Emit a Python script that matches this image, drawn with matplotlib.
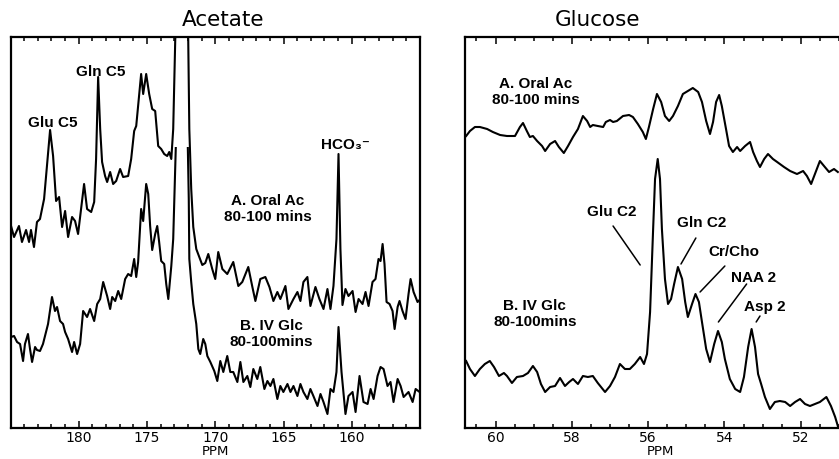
import matplotlib
matplotlib.use("Agg")
import matplotlib.pyplot as plt
from matplotlib.ticker import MultipleLocator, FixedLocator
from matplotlib.patches import Rectangle

# ---------------- data ----------------
# Acetate panel, trace A (Oral Ac, 80-100 mins)
acet_ppm_A = [184.96, 184.74, 184.38, 184.16, 183.86, 183.64, 183.50, 183.28, 183.06, 182.84,
              182.54, 182.32, 182.10, 181.88, 181.66, 181.44, 181.22, 181.00, 180.78, 180.49,
              180.27, 180.05, 179.83, 179.61, 179.39, 179.09, 178.87, 178.73, 178.58, 178.43,
              178.29, 178.07, 177.92, 177.70, 177.48, 177.26, 176.97, 176.75, 176.38, 176.16,
              175.94, 175.79, 175.57, 175.43, 175.28, 175.06, 174.84, 174.62, 174.40, 174.18,
              173.96, 173.74, 173.52, 173.37, 173.22, 173.08, 172.93, 172.49, 171.98, 171.90,
              171.76, 171.61, 171.39, 171.17, 170.95, 170.73, 170.51, 170.22, 170.00, 169.78,
              169.48, 169.12, 168.68, 168.31, 168.02, 167.58, 167.28, 167.06, 166.70, 166.33,
              166.03, 165.74, 165.45, 165.23, 164.86, 164.64, 164.27, 163.98, 163.76, 163.54,
              163.25, 163.03, 162.66, 162.37, 162.07, 161.78, 161.56, 161.34, 161.12, 160.97,
              160.83, 160.68, 160.46, 160.24, 159.94, 159.72, 159.50, 159.21, 158.99, 158.77,
              158.48, 158.26, 158.04, 157.89, 157.74, 157.60, 157.45, 157.23, 157.01, 156.86,
              156.64, 156.50, 156.28, 156.06, 155.84, 155.69, 155.47, 155.18, 154.96]
acet_int_A = [202, 191, 202, 186, 198, 186, 198, 181, 206, 209,
              229, 264, 298, 272, 227, 231, 201, 217, 191, 211,
              207, 194, 219, 244, 219, 216, 226, 269, 351, 299,
              266, 252, 246, 256, 244, 247, 259, 251, 252, 269,
              297, 302, 334, 354, 334, 354, 334, 319, 317, 282,
              279, 274, 272, 276, 269, 299, 389, 470, 389, 299,
              239, 201, 179, 171, 163, 165, 174, 159, 149, 176,
              159, 154, 166, 142, 146, 161, 141, 127, 149, 151,
              141, 127, 136, 129, 142, 119, 129, 136, 127, 146,
              151, 122, 141, 129, 119, 139, 119, 142, 189, 274,
              179, 123, 139, 132, 137, 116, 129, 124, 136, 122,
              146, 149, 169, 167, 184, 164, 126, 124, 117, 99,
              121, 127, 117, 109, 134, 149, 136, 126, 129]

# Acetate panel, trace B (IV Glc, 80-100 mins)
acet_ppm_B = [184.96, 184.74, 184.52, 184.30, 184.08, 183.94, 183.72, 183.57, 183.42, 183.20,
              183.06, 182.84, 182.62, 182.47, 182.25, 181.96, 181.74, 181.59, 181.37, 181.15,
              181.00, 180.78, 180.49, 180.34, 180.12, 179.90, 179.68, 179.39, 179.17, 178.87,
              178.65, 178.43, 178.21, 177.92, 177.70, 177.55, 177.33, 177.11, 176.89, 176.60,
              176.38, 176.16, 175.94, 175.79, 175.65, 175.43, 175.28, 175.06, 174.91, 174.77,
              174.62, 174.40, 174.25, 174.11, 173.96, 173.74, 173.59, 173.44, 173.22, 173.08,
              173.00, 172.89, 172.49, 172.01, 171.94, 171.90, 171.76, 171.61, 171.39, 171.24,
              171.10, 170.88, 170.73, 170.58, 170.36, 170.07, 169.85, 169.63, 169.41, 169.12,
              168.90, 168.68, 168.38, 168.16, 167.94, 167.65, 167.43, 167.21, 166.92, 166.70,
              166.40, 166.18, 165.96, 165.74, 165.45, 165.23, 165.01, 164.71, 164.49, 164.27,
              163.98, 163.76, 163.54, 163.25, 163.03, 162.81, 162.51, 162.29, 162.07, 161.78,
              161.56, 161.34, 161.12, 160.97, 160.75, 160.46, 160.24, 159.94, 159.72, 159.43,
              159.14, 158.84, 158.62, 158.40, 158.11, 157.89, 157.67, 157.38, 157.16, 156.94,
              156.64, 156.42, 156.20, 155.84, 155.54, 155.32, 155.03]
acet_int_B = [91, 92, 86, 84, 67, 84, 94, 79, 66, 81,
              78, 77, 84, 92, 104, 131, 117, 121, 107, 104,
              96, 89, 76, 86, 74, 84, 117, 111, 119, 107,
              124, 129, 146, 132, 119, 131, 127, 137, 129, 149,
              154, 152, 169, 151, 166, 219, 207, 244, 234, 202,
              178, 194, 202, 186, 167, 164, 144, 129, 162, 189,
              229, 281, 470, 281, 229, 169, 146, 124, 104, 79,
              74, 89, 84, 72, 66, 57, 47, 67, 56, 72,
              56, 56, 46, 66, 46, 52, 41, 59, 49, 61,
              39, 47, 42, 49, 29, 42, 36, 44, 36, 42,
              32, 44, 36, 29, 39, 32, 22, 34, 26, 14,
              39, 36, 56, 101, 56, 14, 32, 36, 16, 52,
              26, 24, 39, 29, 52, 61, 59, 42, 46, 26,
              49, 42, 31, 36, 26, 39, 36]
acet_B_cutoff = 281   # the B trace's large peak is cut off at this level

# Glucose panel, trace A (Oral Ac, 80-100 mins)
gluc_ppm_A = [60.77, 60.67, 60.54, 60.41, 60.22, 60.07, 59.88, 59.70, 59.49, 59.36,
              59.28, 59.18, 59.10, 59.02, 58.91, 58.78, 58.70, 58.57, 58.44, 58.34,
              58.21, 58.10, 57.97, 57.84, 57.71, 57.60, 57.52, 57.45, 57.32, 57.18,
              57.11, 57.00, 56.92, 56.82, 56.66, 56.50, 56.40, 56.27, 56.14, 56.06,
              55.98, 55.87, 55.77, 55.66, 55.56, 55.45, 55.35, 55.22, 55.09, 54.96,
              54.83, 54.69, 54.59, 54.48, 54.38, 54.30, 54.22, 54.14, 54.07, 53.96,
              53.88, 53.78, 53.67, 53.59, 53.46, 53.33, 53.25, 53.15, 53.07, 52.96,
              52.86, 52.73, 52.62, 52.44, 52.28, 52.10, 51.94, 51.84, 51.73, 51.63,
              51.50, 51.37, 51.26, 51.13, 51.03]
gluc_int_A = [292, 297, 301, 301, 299, 296, 293, 292, 292, 301,
              305, 297, 291, 292, 287, 282, 277, 284, 287, 281,
              275, 282, 291, 299, 312, 307, 301, 303, 302, 301,
              306, 308, 306, 307, 312, 313, 311, 304, 296, 289,
              301, 319, 334, 326, 312, 307, 312, 322, 334, 337,
              340, 336, 326, 307, 294, 306, 326, 333, 322, 299,
              282, 276, 281, 277, 282, 286, 276, 267, 261, 269,
              274, 269, 266, 261, 257, 254, 257, 252, 244, 254,
              267, 261, 256, 259, 256]

# Glucose panel, trace B (IV Glc, 80-100 mins)
gluc_ppm_B = [60.77, 60.67, 60.54, 60.41, 60.28, 60.15, 60.04, 59.91, 59.78, 59.70,
              59.57, 59.44, 59.28, 59.15, 59.02, 58.91, 58.81, 58.70, 58.57, 58.44,
              58.31, 58.18, 58.07, 57.97, 57.84, 57.71, 57.58, 57.45, 57.32, 57.13,
              57.00, 56.87, 56.74, 56.61, 56.48, 56.35, 56.21, 56.11, 56.03, 55.95,
              55.87, 55.82, 55.75, 55.69, 55.64, 55.56, 55.48, 55.40, 55.32, 55.22,
              55.11, 55.03, 54.96, 54.85, 54.76, 54.67, 54.59, 54.48, 54.38, 54.27,
              54.17, 54.07, 53.99, 53.86, 53.72, 53.59, 53.49, 53.38, 53.29, 53.20,
              53.12, 53.04, 52.94, 52.81, 52.68, 52.55, 52.41, 52.28, 52.15, 52.02,
              51.89, 51.76, 51.63, 51.50, 51.33, 51.21, 51.10, 51.03, 50.95]
gluc_int_B = [67, 59, 52, 59, 64, 67, 61, 52, 55, 52,
              45, 51, 52, 55, 62, 56, 44, 36, 41, 42,
              50, 42, 46, 49, 44, 52, 51, 52, 45, 36,
              42, 51, 64, 59, 59, 64, 71, 64, 74, 116,
              199, 249, 269, 249, 199, 149, 124, 129, 144, 161,
              149, 126, 111, 124, 134, 126, 106, 79, 66, 84,
              97, 86, 69, 49, 39, 36, 51, 81, 99, 81,
              54, 44, 31, 19, 26, 27, 26, 22, 26, 29,
              24, 22, 24, 26, 31, 22, 11, 2, -12]

# Axis ranges / ticks
acet_xlim = (185.0, 155.0)
gluc_xlim = (60.80, 50.58)
acet_ticks = [180, 175, 170, 165, 160]
gluc_ticks = [60, 58, 56, 54, 52]
y_range = (0, 391)

# Labels (text, x ppm, intensity)
acet_labels = [("Glu C5", 181.88, 306), ("Gln C5", 178.36, 357),
               ("A. Oral Ac\n80-100 mins", 166.18, 220),
               ("B. IV Glc\n80-100mins", 165.89, 95)]
acet_hco3 = ("HCO\u2083\u207b", 160.46, 284)
gluc_labels = [("A. Oral Ac\n80-100 mins", 58.94, 337),
               ("B. IV Glc\n80-100mins", 58.97, 115),
               ("Glu C2", 56.95, 217), ("Gln C2", 54.59, 206),
               ("Cr/Cho", 53.76, 177), ("NAA 2", 53.23, 151),
               ("Asp 2", 52.94, 122)]
# leader lines: (x0, y0, x1, y1)
gluc_leaders = [(56.92, 202, 56.21, 163), (54.75, 190, 55.14, 164),
                (53.99, 162, 54.64, 136), (53.42, 144, 54.16, 106),
                (53.07, 112, 53.17, 106)]

# ---------------- plotting ----------------
W, H = 839, 460
fig = plt.figure(figsize=(W / 100, H / 100), dpi=100)
axL = fig.add_axes([10.5 / W, 31 / H, 409.5 / W, 391 / H])
axR = fig.add_axes([465 / W, 31 / H, 390 / W, 391 / H])

lab_font = dict(family=["Liberation Sans", "DejaVu Sans"], fontweight="bold",
                fontsize=11, color="black")

def style(ax, xlim, ticks, minor):
    ax.set_xlim(*xlim)
    ax.set_ylim(*y_range)
    ax.set_yticks([])
    ax.xaxis.set_major_locator(FixedLocator(ticks))
    ax.xaxis.set_minor_locator(MultipleLocator(minor))
    ax.tick_params(axis="x", which="both", direction="in", top=True, bottom=True,
                   labelsize=10, pad=1.5, width=1.1, color="black")
    ax.tick_params(axis="x", which="major", length=5)
    ax.tick_params(axis="x", which="minor", length=2.8)
    for s in ax.spines.values():
        s.set_linewidth(1.6)
    ax.set_xlabel("PPM", fontsize=9.5, labelpad=0)

style(axL, acet_xlim, acet_ticks, 1)
style(axR, gluc_xlim, gluc_ticks, 0.5)

lw = 1.5
axL.plot(acet_ppm_A, acet_int_A, color="black", lw=lw)
lineB, = axL.plot(acet_ppm_B, acet_int_B, color="black", lw=lw)
clip = Rectangle((acet_xlim[1], y_range[0] - 50), acet_xlim[0] - acet_xlim[1],
                 acet_B_cutoff - y_range[0] + 50, transform=axL.transData)
lineB.set_clip_path(clip)

axR.plot(gluc_ppm_A, gluc_int_A, color="black", lw=lw)
axR.plot(gluc_ppm_B, gluc_int_B, color="black", lw=lw)

for txt, x, y in acet_labels:
    axL.text(x, y, txt, ha="center", va="center", linespacing=1.15, **lab_font)
axL.text(acet_hco3[1], acet_hco3[2], acet_hco3[0], ha="center", va="center", **lab_font)

for txt, x, y in gluc_labels:
    axR.text(x, y, txt, ha="center", va="center", linespacing=1.15, **lab_font)
for x0, y0, x1, y1 in gluc_leaders:
    axR.annotate("", xy=(x1, y1), xytext=(x0, y0),
                 arrowprops=dict(arrowstyle="-", lw=1.1, color="black",
                                 shrinkA=0, shrinkB=0))

fig.text(223 / W, 1 - 20 / H, "Acetate", ha="center", va="center", fontsize=15.5)
fig.text(597 / W, 1 - 20 / H, "Glucose", ha="center", va="center", fontsize=15.5)

fig.savefig("out.png", dpi=100)
